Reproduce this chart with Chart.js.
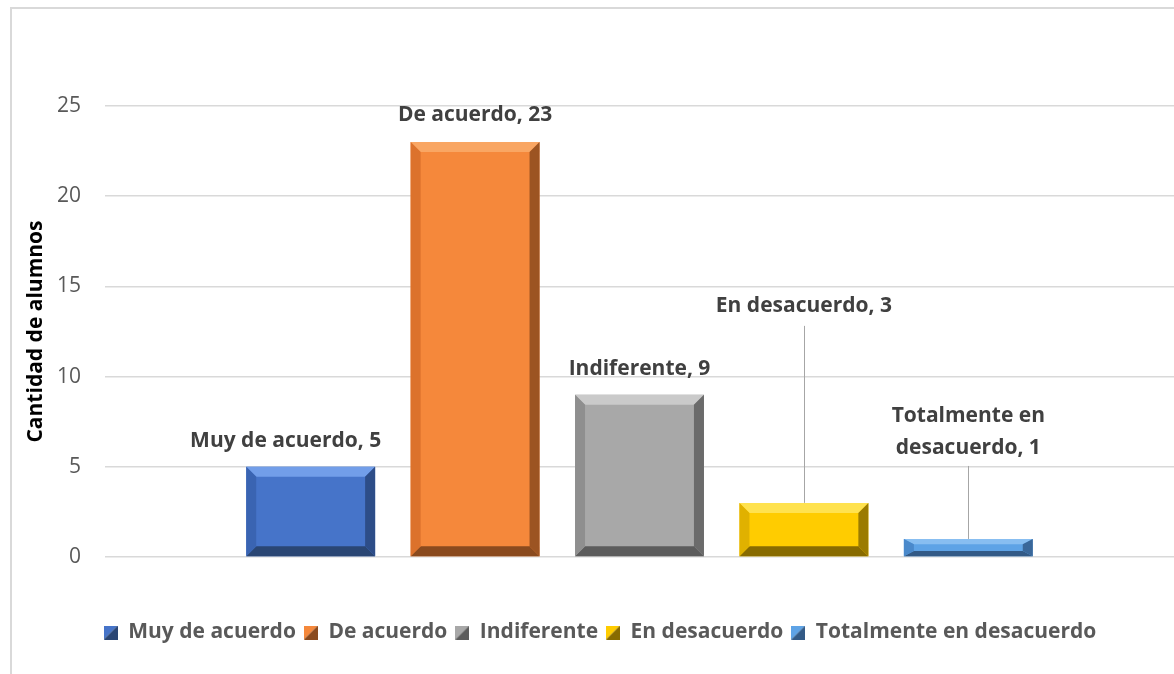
<!DOCTYPE html>
<html>
<head>
<meta charset="utf-8">
<script src="https://cdn.jsdelivr.net/npm/chart.js@4.4.1/dist/chart.umd.min.js"></script>
<style>
  html, body { margin: 0; padding: 0; background: #fff; overflow: hidden; }
  #frame { position: absolute; left: 10px; top: 7px; width: 1300px; height: 800px; border-left: 2px solid #d9d9d9; border-top: 2px solid #d9d9d9; }
  #wrap { position: absolute; left: 0; top: 0; width: 1174px; height: 674px; }
</style>
</head>
<body>
<div id="frame"></div>
<div id="wrap"><canvas id="chart"></canvas></div>
<script>
const categories = [''];
const seriesNames = ['Muy de acuerdo', 'De acuerdo', 'Indiferente', 'En desacuerdo', 'Totalmente en desacuerdo'];
const seriesValues = [5, 23, 9, 3, 1];
const yTicks = [0, 5, 10, 15, 20, 25];

// main face, top bevel, left bevel, right bevel, bottom bevel
const palette = [
    ['#4674c9', '#729ee9', '#3a64b2', '#2d4d88', '#2a4674'],
    ['#f5883b', '#f9a663', '#dc722c', '#9c5422', '#8a4a1e'],
    ['#a8a8a8', '#cacaca', '#8f8f8f', '#6b6b6b', '#5c5c5c'],
    ['#ffcc00', '#ffe24f', '#e0b100', '#9b7b00', '#886b00'],
    ['#5ea3e6', '#88bef1', '#4a89cb', '#3a6799', '#335a86']
];

function legendBox(c) {
    const cv = document.createElement('canvas');
    cv.width = 14; cv.height = 14;
    const g = cv.getContext('2d');
    g.fillStyle = c[0];
    g.beginPath(); g.moveTo(0, 0); g.lineTo(14, 0); g.lineTo(0, 14); g.fill();
    g.fillStyle = c[4];
    g.beginPath(); g.moveTo(14, 0); g.lineTo(14, 14); g.lineTo(0, 14); g.fill();
    return cv;
}

const bevelPlugin = {
    id: 'bevel',
    afterDatasetsDraw(chart) {
        const ctx = chart.ctx;
        chart.data.datasets.forEach((ds, i) => {
            const c = palette[i];
            chart.getDatasetMeta(i).data.forEach(bar => {
                const x0 = bar.x - bar.width / 2, x1 = bar.x + bar.width / 2;
                const y0 = bar.y, y1 = bar.base;
                const bx = 10, by = Math.min(10, (y1 - y0) * 0.3);
                const face = (pts, col) => {
                    ctx.fillStyle = col;
                    ctx.beginPath();
                    ctx.moveTo(pts[0][0], pts[0][1]);
                    pts.slice(1).forEach(p => ctx.lineTo(p[0], p[1]));
                    ctx.closePath();
                    ctx.fill();
                };
                ctx.save();
                face([[x0, y0], [x1, y0], [x1 - bx, y0 + by], [x0 + bx, y0 + by]], c[1]);
                face([[x0, y1], [x1, y1], [x1 - bx, y1 - by], [x0 + bx, y1 - by]], c[4]);
                face([[x0, y0], [x0 + bx, y0 + by], [x0 + bx, y1 - by], [x0, y1]], c[2]);
                face([[x1, y0], [x1 - bx, y0 + by], [x1 - bx, y1 - by], [x1, y1]], c[3]);
                ctx.restore();
            });
        });
    }
};

const labelPlugin = {
    id: 'barLabels',
    afterDatasetsDraw(chart, args, opts) {
        const ctx = chart.ctx;
        ctx.save();
        ctx.font = 'bold 21px "Open Sans"';
        ctx.fillStyle = '#404040';
        ctx.textAlign = 'center';
        ctx.textBaseline = 'middle';
        chart.data.datasets.forEach((ds, i) => {
            const bar = chart.getDatasetMeta(i).data[0];
            const o = opts.items[i];
            const text = ds.label + ', ' + ds.data[0];
            const lines = o.wrap ? [o.wrap[0], o.wrap[1] + ', ' + ds.data[0]] : [text];
            const y = bar.y - o.lift;
            const x = bar.x + (o.dx || 0);
            lines.forEach((ln, k) => {
                ctx.fillText(ln, x, y + (k - (lines.length - 1) / 2) * 32);
            });
            if (o.leader) {
                ctx.strokeStyle = '#a6a6a6';
                ctx.lineWidth = 1;
                ctx.beginPath();
                ctx.moveTo(Math.round(bar.x) + 0.5, bar.y - o.leader);
                ctx.lineTo(Math.round(bar.x) + 0.5, bar.y);
                ctx.stroke();
            }
        });
        ctx.restore();
    }
};

new Chart(document.getElementById('chart'), {
    type: 'bar',
    data: {
        labels: categories,
        datasets: seriesNames.map((name, i) => ({
            label: name,
            data: [seriesValues[i]],
            backgroundColor: palette[i][0],
            borderWidth: 0,
            categoryPercentage: 0.769,
            barPercentage: 0.784
        }))
    },
    options: {
        responsive: true,
        maintainAspectRatio: false,
        animation: false,
        layout: { padding: { left: 26, right: 0, top: 106, bottom: 21 } },
        plugins: {
            tooltip: { enabled: false },
            legend: {
                position: 'bottom',
                labels: {
                    usePointStyle: true,
                    boxWidth: 14,
                    boxHeight: 14,
                    padding: 8,
                    color: '#595959',
                    font: { family: 'Open Sans', size: 21, weight: 'bold' },
                    generateLabels(chart) {
                        return chart.data.datasets.map((ds, i) => ({
                            text: ds.label,
                            pointStyle: legendBox(palette[i]),
                            fillStyle: palette[i][0],
                            strokeStyle: palette[i][0],
                            lineWidth: 0,
                            fontColor: '#595959',
                            datasetIndex: i
                        }));
                    }
                }
            },
            barLabels: {
                items: [
                    { lift: 26, dx: -25 },
                    { lift: 27 },
                    { lift: 26 },
                    { lift: 197, leader: 177 },
                    { lift: 107, leader: 73, wrap: ['Totalmente en', 'desacuerdo'] }
                ]
            }
        },
        scales: {
            x: {
                display: true,
                afterFit(scale) { scale.height = 57; },
                grid: { display: false },
                border: { display: false },
                ticks: { display: false }
            },
            y: {
                min: 0,
                max: 25,
                afterBuildTicks(scale) { scale.ticks = yTicks.map(v => ({ value: v })); },
                afterFit(scale) { scale.width = 79; },
                grid: { color: '#d9d9d9', lineWidth: 1.5, drawTicks: false },
                border: { display: false },
                ticks: { color: '#595959', padding: 24, font: { family: 'Open Sans', size: 21 } },
                title: {
                    display: true,
                    text: 'Cantidad de alumnos',
                    color: '#000',
                    padding: 0,
                    font: { family: 'Open Sans', size: 21, weight: 'bold', lineHeight: 1 }
                }
            }
        }
    },
    plugins: [bevelPlugin, labelPlugin]
});
</script>
</body>
</html>
